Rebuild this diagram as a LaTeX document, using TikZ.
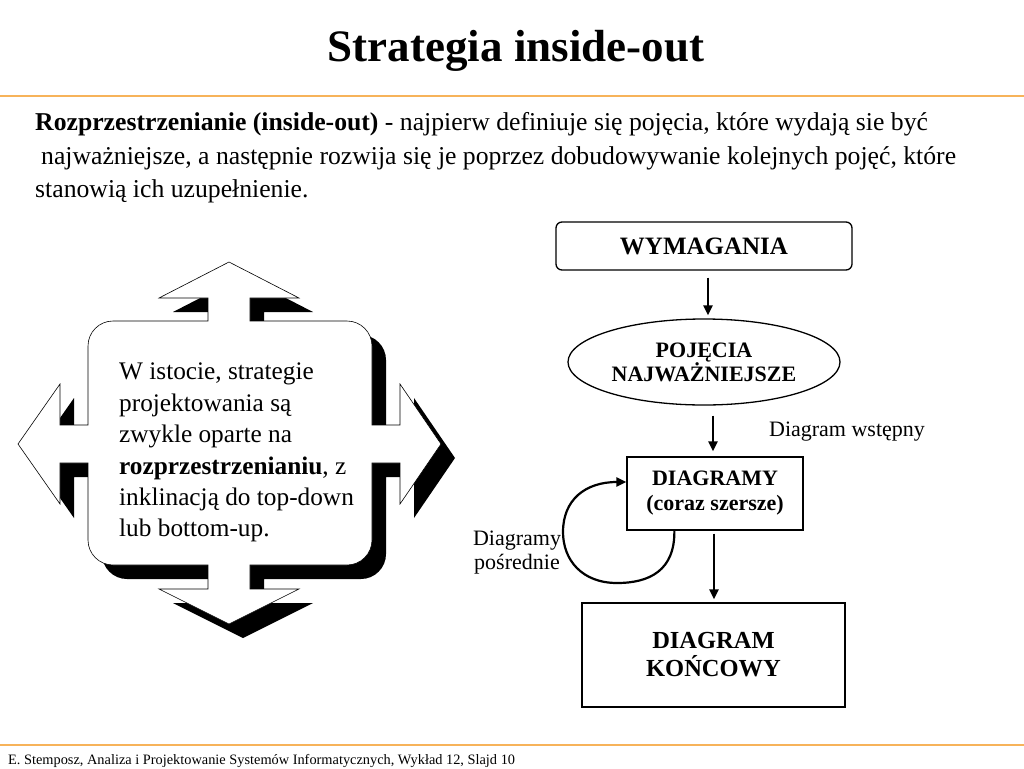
\documentclass[tikz,border=0pt]{standalone}
\usepackage{fontspec}
\setmainfont{Liberation Serif}
\usetikzlibrary{arrows.meta,shapes.geometric}
\definecolor{orangeline}{RGB}{247,179,90}
\def\crossshape{(88,346) .. controls (88,332.2) and (99.2,321) .. (113,321) -- (208,321) -- (208,298) -- (159,298) -- (229,262) -- (299,298) -- (250,298) -- (250,321) -- (347,321) .. controls (360.8,321) and (372,332.2) .. (372,346) -- (372,425) -- (400,425) -- (400,384) -- (441,444) -- (400,504) -- (400,463) -- (372,463) -- (372,540) .. controls (372,553.8) and (360.8,565) .. (347,565) -- (250,565) -- (250,589) -- (299,589) -- (229,624) -- (159,589) -- (208,589) -- (208,565) -- (113,565) .. controls (99.2,565) and (88,553.8) .. (88,540) -- (88,463) -- (60,463) -- (60,504) -- (18,444) -- (60,384) -- (60,425) -- (88,425) -- cycle}
\begin{document}
\begin{tikzpicture}[x=1pt,y=-1pt,
  para/.style={inner sep=0pt, anchor=base west, font=\fontsize{25.7}{30}\selectfont},
  boxline/.style={draw=black, line width=1.3pt, inner sep=0pt},
  arr/.style={line width=2.2pt, -{Triangle[length=10pt,width=9pt]}},
  rule/.style={draw=orangeline, line width=2pt}
]
\useasboundingbox (0,0) rectangle (1024,768);
\fill[white] (0,0) rectangle (1024,768);

% title and rules
\node[inner sep=0pt, anchor=base, font=\fontsize{45}{50}\selectfont\bfseries] (title) at (516,62) {Strategia inside-out};
\coordinate (r1a) at (0,96);
\coordinate (r1b) at (1024,96);
\draw[rule] (r1a) -- (r1b);
\coordinate (r2a) at (0,745);
\coordinate (r2b) at (1024,745);
\draw[rule] (r2a) -- (r2b);

% paragraph
\node[para] (p1) at (35,130) {\textbf{Rozprzestrzenianie (inside-out)} - najpierw definiuje się pojęcia, które wydają sie być};
\node[para] (p2) at (41,164) {najważniejsze, a następnie rozwija się je poprzez dobudowywanie kolejnych pojęć, które};
\node[para] (p3) at (35,197) {stanowią ich uzupełnienie.};

% cross arrow callout
\fill[black, shift={(14,14)}] \crossshape;
\filldraw[fill=white, draw=black, line width=0.6pt] \crossshape;
\node[inner sep=0pt, anchor=north west, align=left, font=\fontsize{25.3}{31.4}\selectfont] (boxtext) at (119,363)
 {W istocie, strategie\\projektowania są\\zwykle oparte na\\\textbf{rozprzestrzenianiu}, z\\inklinacją do top-down\\lub bottom-up.};

% flowchart
\node[boxline, rounded corners=6pt, minimum width=296pt, minimum height=48pt, font=\fontsize{25}{28}\selectfont\bfseries] (wym) at (704,246) {WYMAGANIA};
\node[boxline, ellipse, minimum width=272pt, minimum height=86pt, align=center, font=\fontsize{22}{24}\selectfont\bfseries] (poj) at (704,362) {POJĘCIA\\NAJWAŻNIEJSZE};
\node[boxline, minimum width=176pt, minimum height=73pt, align=center, font=\fontsize{22}{25}\selectfont\bfseries] (diag) at (715,493.5) {DIAGRAMY\\(coraz szersze)};
\node[boxline, minimum width=263pt, minimum height=104pt, align=center, font=\fontsize{24.5}{28}\selectfont\bfseries] (konc) at (713.5,655) {DIAGRAM\\KOŃCOWY};

\node[inner sep=0pt, font=\fontsize{22}{25}\selectfont] (wst) at (847,432) {Diagram wstępny};
\node[inner sep=0pt, align=center, font=\fontsize{22}{24}\selectfont] (posr) at (517,553) {Diagramy\\pośrednie};

\draw[arr, shorten <=7pt, shorten >=3pt] ([xshift=4pt]wym.south) -- ([xshift=4pt]wym.south |- poj.north);
\draw[arr, shorten <=10pt, shorten >=5pt] ([xshift=9pt]poj.south) -- ([xshift=9pt]poj.south |- diag.north);
\draw[arr, shorten <=3pt, shorten >=3pt] ([xshift=-1pt]diag.south) -- ([xshift=-1pt]diag.south |- konc.north);
\draw[arr] ([xshift=48pt]diag.south west) .. controls (675,570) and (650,583) .. (617,583)
  .. controls (582,583) and (563,560) .. (563,532)
  .. controls (563,500) and (585,482) .. ([yshift=11.5pt]diag.west);

% footer
\node[inner sep=0pt, anchor=base west, font=\fontsize{14.35}{17}\selectfont] (foot) at (8,764) {E. Stemposz, Analiza i Projektowanie Systemów Informatycznych, Wykład 12, Slajd 10};
\end{tikzpicture}
\end{document}
